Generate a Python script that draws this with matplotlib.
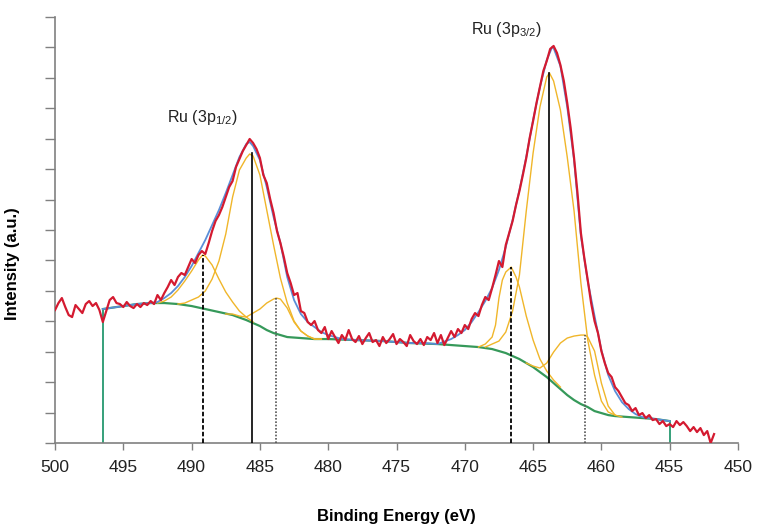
import numpy as np
import matplotlib.pyplot as plt

plt.rcParams["mathtext.default"] = "regular"

# measured spectrum, 0.25 eV steps from 500 eV downwards
raw_energy = np.arange(500.0, 451.7, -0.25)
raw_counts = [
    133, 140, 145, 136, 128, 126, 138, 134,
    130, 139, 142, 137, 140, 133, 121, 132,
    143, 146, 140, 139, 136, 141, 137, 135,
    139, 136, 140, 138, 142, 139, 148, 143,
    150, 156, 163, 158, 166, 170, 168, 176,
    184, 180, 188, 192, 189, 200, 212, 222,
    228, 236, 246, 256, 262, 276, 284, 292,
    298, 304, 300, 294, 285, 268, 260, 244,
    230, 212, 200, 186, 170, 160, 148, 150,
    132, 130, 121, 118, 122, 113, 110, 116,
    104, 112, 106, 100, 108, 103, 113, 104,
    101, 107, 99, 105, 110, 101, 103, 97,
    106, 100, 104, 109, 99, 104, 101, 97,
    108, 102, 99, 104, 98, 106, 103, 110,
    100, 108, 98, 105, 112, 106, 114, 110,
    118, 114, 124, 130, 127, 138, 146, 143,
    155, 168, 182, 176, 198, 210, 222, 238,
    252, 268, 285, 305, 322, 340, 356, 372,
    382, 394, 397, 390, 378, 362, 340, 315,
    285, 250, 210, 185, 163, 140, 122, 110,
    92, 80, 70, 66, 56, 52, 46, 40,
    38, 32, 35, 28, 30, 25, 28, 23,
    24, 19, 22, 17, 19, 16, 22, 18,
    21, 17, 12, 16, 11, 15, 8, 12,
    0, 9,
]

# Shirley-type background
bg_energy = [496.5, 496, 495, 494, 493, 492, 491, 490, 489, 488, 487, 486, 485.5,
             485, 484.5, 484, 483.5, 483, 482, 481, 480, 478, 476, 474, 472, 470,
             469, 468, 467.5, 467, 466.5, 466, 465.5, 465, 464.5, 464, 463.5, 463,
             462.5, 462, 461.5, 461, 460.5, 460, 459.5, 459, 458, 457, 456, 455]
bg_counts = [134, 135, 137, 139, 140, 140, 139, 137, 134, 131, 128, 123, 120,
             117, 113, 110, 108, 106, 105, 104, 104, 103, 102, 100, 99, 97,
             96, 94, 92, 90, 87, 84, 80, 76, 71, 66, 60, 54,
             48, 43, 39, 36, 32, 30, 28, 27, 26, 25, 24, 22]

# fitted envelope
env_energy = [496.5, 494, 493, 492.5, 492, 491.5, 491, 490.5, 490, 489.5, 489, 488.5,
              488, 487.5, 487, 486.5, 486, 485.75, 485.5, 485, 484.5, 484, 483.5, 483,
              482.5, 482, 481.5, 481, 480.5, 480, 479, 478, 476, 474, 473, 472, 471,
              470.5, 470, 469.5, 469, 468.5, 468, 467.5, 467, 466.5, 466, 465.5, 465,
              464.5, 464, 463.6, 463.5, 463, 462.5, 462, 461.5, 461, 460.5, 460,
              459.5, 459, 458.5, 458, 457.5, 457, 456, 455]
env_counts = [134, 139, 140, 141, 145, 150, 157, 166, 177, 190, 203, 218,
              233, 250, 268, 286, 299, 301, 297, 283, 256, 226, 200, 166,
              143, 129, 121, 116, 111, 108, 104, 103, 102, 100, 100, 99, 104,
              108, 113, 121, 131, 142, 155, 173, 196, 223, 253, 286, 323,
              356, 383, 396, 395, 377, 336, 283, 207, 162, 127, 93,
              68, 52, 41, 34, 29, 26, 24, 22]

# fitted components (drawn on top of the background)
p12_main_e = [491, 490.5, 490, 489.5, 489, 488.5, 488, 487.5, 487, 486.5, 486, 485.75,
              485.5, 485, 484.5, 484, 483.5, 483, 482.5, 482, 481.5, 481, 480.5]
p12_main_c = [139, 140, 143, 146, 152, 164, 182, 209, 246, 273, 285, 289,
              287, 268, 233, 198, 165, 140, 122, 112, 107, 104, 104]
p12_high_e = [492.5, 492, 491.5, 491, 490.5, 490, 489.5, 489.2, 489, 488.5, 488,
              487.5, 487, 486.5, 486, 485.5]
p12_high_c = [140, 142, 146, 153, 162, 172, 183, 188, 187, 178, 164,
              151, 141, 132, 126, 121]
p12_low_e = [487.5, 487, 486.5, 486, 485.5, 485, 484.5, 484, 483.8, 483.5, 483,
             482.5, 482, 481.5, 481, 480.5]
p12_low_c = [129, 129, 127, 126, 130, 134, 140, 144, 145, 144, 135,
             121, 112, 107, 104, 104]

p32_main_e = [468.5, 468, 467.5, 467, 466.5, 466, 465.5, 465, 464.5, 464, 463.8,
              463.5, 463, 462.5, 462, 461.5, 461, 460.5, 460, 459.5, 459]
p32_main_c = [96, 99, 102, 111, 132, 168, 232, 290, 336, 366, 370,
              362, 333, 286, 232, 160, 103, 68, 42, 31, 28]
p32_high_e = [469, 468.5, 468, 467.75, 467.5, 467.25, 467, 466.6, 466.25, 466, 465.5,
              465, 464.5, 464, 463.5, 463]
p32_high_c = [96, 99, 106, 118, 145, 163, 171, 176, 166, 156, 127,
              103, 84, 72, 63, 56]
p32_low_e = [465.5, 465, 464.5, 464, 463.5, 463, 462.5, 462, 461.5, 461.2, 461,
             460.5, 460, 459.5, 459, 458.5]
p32_low_c = [80, 77, 75, 80, 91, 100, 105, 107, 108, 108, 106,
             92, 60, 37, 28, 26]

# peak position markers
line_pos = [489.2, 485.55, 483.8, 466.6, 463.85, 461.2]
line_top = [188, 290, 145, 176, 370, 108]
line_kind = ["dashed", "solid", "dotted", "dashed", "solid", "dotted"]

# background end points
bg_ends = [496.5, 455.0]
bg_end_top = [134, 22]

fig = plt.figure(figsize=(7.59, 5.30), dpi=100)
ax = fig.add_axes([0.0725, 0.164, 0.8998, 0.804])

ax.plot(bg_energy, bg_counts, color="#36995a", lw=1.6, zorder=2)
ax.vlines(bg_ends, 0, bg_end_top, color="#35a07a", lw=1.4, zorder=2)

comps = [(p12_main_e, p12_main_c), (p12_high_e, p12_high_c), (p12_low_e, p12_low_c),
         (p32_main_e, p32_main_c), (p32_high_e, p32_high_c), (p32_low_e, p32_low_c)]
for e, c in comps:
    ax.plot(e, c, color="#f0b62a", lw=1.0, zorder=3)

ax.plot(env_energy, env_counts, color="#5a8ed8", lw=1.3, zorder=4)
ax.plot(raw_energy, raw_counts, color="#d41a30", lw=1.6, zorder=5)

for x, top, kind in zip(line_pos, line_top, line_kind):
    if kind == "solid":
        ax.plot([x, x], [0, top], color="black", lw=1.2, zorder=6)
    elif kind == "dashed":
        ax.plot([x, x], [0, top], color="black", lw=1.3, zorder=6,
                ls=(0, (2.5, 1.2)))
    else:
        ax.plot([x, x], [0, top], color="#555555", lw=1.2, zorder=6,
                ls=(0, (1, 1)))

ax.text(491.8, 325, r"Ru (3p$_{1/2}$)", fontsize=11.5, color="#222222",
        family="Liberation Sans", ha="left", va="center")
ax.text(469.55, 413, r"Ru (3p$_{3/2}$)", fontsize=11.5, color="#222222",
        family="Liberation Sans", ha="left", va="center")

ax.set_xlim(500, 450)
ax.set_ylim(0, 426)
ax.set_xticks(np.arange(500, 449, -5))
ax.set_yticks(np.linspace(0, 426, 15))
ax.set_yticklabels([])
for lab in ax.get_xticklabels():
    lab.set_family("Liberation Sans")
    lab.set_fontsize(12.5)
ax.tick_params(axis="x", direction="out", length=5, width=1, color="#808080",
               pad=7, labelcolor="#222222")
ax.tick_params(axis="y", direction="out", length=7, width=1, color="#808080")

for side in ["top", "right"]:
    ax.spines[side].set_visible(False)
for side in ["left", "bottom"]:
    ax.spines[side].set_color("#808080")
    ax.spines[side].set_linewidth(1.2)

ax.set_xlabel("Binding Energy (eV)", fontsize=12, fontweight="bold",
              family="Liberation Sans")
ax.set_ylabel("Intensity (a.u.)", fontsize=12, fontweight="bold",
              family="Liberation Sans")
ax.xaxis.set_label_coords(0.5, -0.155)
ax.yaxis.set_label_coords(-0.052, 0.42)

fig.savefig("out.png", dpi=100)
